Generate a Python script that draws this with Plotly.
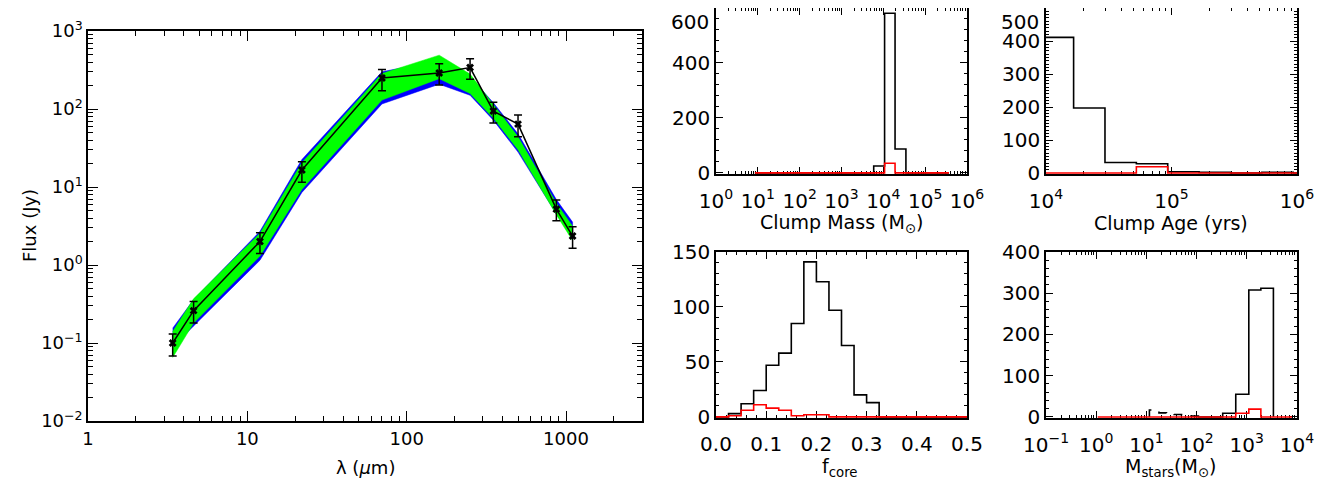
import plotly.graph_objects as go

# observed SED
wavelength = [3.4, 4.6, 12, 22, 70, 160, 250, 350, 500, 870, 1100]
flux = [0.10, 0.26, 2.0, 16.5, 250, 290, 340, 94, 64, 5.2, 2.35]
flux_hi = [0.13, 0.34, 2.6, 21, 320, 380, 440, 122, 84, 6.8, 3.1]
flux_lo = [0.068, 0.18, 1.4, 11.5, 172, 203, 240, 66, 44, 3.7, 1.64]

# model SED envelopes
model_wav = [3.4, 4.6, 12, 22, 70, 160, 250, 350, 500, 870, 1100]
blue_hi = [0.155, 0.36, 2.7, 22.5, 300, 420, 260, 120, 48, 6.9, 3.55]
blue_lo = [0.088, 0.165, 1.15, 8.5, 116, 208, 150, 72, 28, 4.5, 2.3]
green_hi = [0.14, 0.37, 2.55, 20.5, 285, 490, 280, 113, 44, 6.2, 3.15]
green_lo = [0.065, 0.18, 1.3, 9.3, 130, 245, 158, 76, 30, 4.4, 2.05]

# clump mass histogram (log10 bin edges)
mass_edges = [0.93, 1.19, 1.45, 1.70, 1.96, 2.22, 2.48, 2.74, 2.99, 3.25,
              3.51, 3.77, 4.03, 4.28, 4.54, 4.80, 5.06, 5.32, 5.57]
mass_all = [0, 0, 0, 0, 0, 0, 0, 0, 0, 0, 0, 25, 581, 87, 0, 0, 0, 0]
mass_best = [0, 0, 0, 0, 0, 0, 0, 0, 0, 0, 0, 0, 35, 0, 0, 0, 0, 0]

# clump age histogram (log10 bin edges)
age_edges = [3.97, 4.22, 4.47, 4.72, 4.97, 5.22, 5.47, 5.72, 5.97, 6.22]
age_all = [411, 197, 32, 28, 4, 2, 0, 2, 0]
age_best = [0, 0, 0, 19, 0, 0, 0, 0, 0]

# core fraction histogram
fcore_edges = [0.0, 0.025, 0.05, 0.075, 0.1, 0.125, 0.15, 0.175, 0.2, 0.225, 0.25,
               0.275, 0.3, 0.325, 0.35, 0.375, 0.4, 0.425, 0.45, 0.475, 0.5]
fcore_all = [0, 3, 12, 24, 47, 58, 85, 141, 123, 97, 65, 20, 13, 0, 0, 0, 0, 0, 0, 0]
fcore_best = [0, 1, 6, 11, 8, 6, 1, 2, 2, 0, 0, 0, 0, 0, 0, 0, 0, 0, 0, 0]

# stellar mass histograms (log10 bin edges)
mstar_edges = [2.02, 2.27, 2.52, 2.78, 3.04, 3.28, 3.53]
mstar_all = [0, 0, 9, 55, 308, 312]
mstar_low_edges = [1.06, 1.25, 1.40, 1.55, 1.70, 1.87, 2.07]
mstar_low = [17, 10, 8, 6, 4, 2]
mstar_best_edges = [0.03, 0.53, 1.03, 1.53, 2.03, 2.52, 2.78, 3.04, 3.28, 3.53, 3.90]
mstar_best = [0, 0, 0, 0, 0, 0, 9, 19, 0, 0]

FONT = "DejaVu Sans"
OFF = 8  # page body margin
W, H = 1332 - OFF, 483 - OFF


def step(edges, counts, log=True):
    xs = [edges[0]] + list(edges)
    ys = [0] + list(counts) + [0]
    if log:
        xs = [10 ** e for e in xs]
    return xs, ys


def log_minor(lo, hi):
    return [m * 10 ** k for k in range(lo, hi) for m in range(2, 10)]


def pow_labels(lo, hi):
    vals = [10 ** k for k in range(lo, hi + 1)]
    txt = ["10<sup>%s</sup>" % str(k).replace("-", "\u2212") for k in range(lo, hi + 1)]
    return vals, txt


fig = go.Figure()

# SED panel
fig.add_trace(go.Scatter(
    x=model_wav + model_wav[::-1], y=blue_hi + blue_lo[::-1],
    fill="toself", fillcolor="#0000ff", line=dict(color="#0000ff", width=0.5),
    mode="lines", xaxis="x", yaxis="y", hoverinfo="skip"))
fig.add_trace(go.Scatter(
    x=model_wav + model_wav[::-1], y=green_hi + green_lo[::-1],
    fill="toself", fillcolor="#00ff00", line=dict(color="#00ff00", width=0.5),
    mode="lines", xaxis="x", yaxis="y", hoverinfo="skip"))
fig.add_trace(go.Scatter(
    x=wavelength, y=flux, mode="lines+markers",
    line=dict(color="black", width=1.5),
    marker=dict(symbol="x", size=7, color="black"),
    error_y=dict(type="data", symmetric=False,
                 array=[h - f for h, f in zip(flux_hi, flux)],
                 arrayminus=[f - l for f, l in zip(flux, flux_lo)],
                 color="black", thickness=1.5, width=4),
    xaxis="x", yaxis="y"))

# histograms
hists = [
    ("x2", "y2", mass_edges, mass_all, "black", "solid", True),
    ("x2", "y2", mass_edges, mass_best, "red", "solid", True),
    ("x3", "y3", age_edges, age_all, "black", "solid", True),
    ("x3", "y3", age_edges, age_best, "red", "solid", True),
    ("x4", "y4", fcore_edges, fcore_all, "black", "solid", False),
    ("x4", "y4", fcore_edges, fcore_best, "red", "solid", False),
    ("x5", "y5", mstar_low_edges, mstar_low, "black", "dash", True),
    ("x5", "y5", mstar_edges, mstar_all, "black", "solid", True),
    ("x5", "y5", mstar_best_edges, mstar_best, "red", "solid", True),
]
for xa, ya, edges, counts, col, dash, lg in hists:
    xs, ys = step(edges, counts, lg)
    fig.add_trace(go.Scatter(x=xs, y=ys, mode="lines", line_shape="hv",
                             line=dict(color=col, width=1.6, dash=dash),
                             xaxis=xa, yaxis=ya, hoverinfo="skip"))


def ax(domain, anchor, rng, typ="linear", tickvals=None, ticktext=None,
       minor_vals=None, ticklen=8, minorlen=4, size=17, standoff=None):
    d = dict(domain=domain, anchor=anchor, range=rng, type=typ, automargin=False,
             showline=True, linecolor="black", linewidth=1.5, mirror="ticks",
             ticks="inside", ticklen=ticklen, tickwidth=1.2, tickcolor="black",
             showgrid=False, zeroline=False, layer="below traces",
             tickfont=dict(family=FONT, size=size, color="black"))
    if tickvals is not None:
        d.update(tickmode="array", tickvals=tickvals)
        if ticktext is not None:
            d["ticktext"] = ticktext
    if minor_vals is not None:
        d["minor"] = dict(tickmode="array", tickvals=minor_vals, ticks="inside",
                          ticklen=minorlen, tickwidth=1, tickcolor="black", showgrid=False)
    if standoff is not None:
        d["ticklabelstandoff"] = standoff
    return d


def px(x0, x1):
    return [(x0 - OFF) / W, (x1 - OFF) / W]


def py(top, bottom):
    return [1 - (bottom - OFF) / H, 1 - (top - OFF) / H]


sed_y_vals, sed_y_txt = pow_labels(-2, 3)
tl_x_vals, tl_x_txt = pow_labels(0, 6)
tr_x_vals, tr_x_txt = pow_labels(4, 6)
br_x_vals, br_x_txt = pow_labels(-1, 4)

fig.update_layout(
    width=W, height=H, margin=dict(l=0, r=0, t=0, b=0, autoexpand=False),
    paper_bgcolor="white", plot_bgcolor="white", showlegend=False,
    font=dict(family=FONT, color="black"),
    xaxis=ax(px(88, 642), "y", [0, 3.477], "log",
             tickvals=[1, 10, 100, 1000], ticktext=["1", "10", "100", "1000"],
             minor_vals=log_minor(0, 4), ticklen=10, minorlen=5, size=18, standoff=1),
    yaxis=ax(py(31, 421), "x", [-2, 3], "log", sed_y_vals, sed_y_txt,
             minor_vals=log_minor(-2, 3), ticklen=10, minorlen=5, size=18),
    xaxis2=ax(px(716, 967), "y2", [0, 6], "log", tl_x_vals, tl_x_txt,
              minor_vals=log_minor(0, 6), ticklen=7, minorlen=3, size=20, standoff=8),
    yaxis2=ax(py(8, 174), "x2", [-4, 600], "linear", [0, 200, 400, 600],
              ["0", "200", "400", " "],
              minor_vals=list(range(0, 601, 40)), ticklen=7, minorlen=3, size=20),
    xaxis3=ax(px(1046, 1297), "y3", [4, 6], "log", tr_x_vals, tr_x_txt,
              minor_vals=log_minor(4, 6), ticklen=7, minorlen=3, size=20, standoff=8),
    yaxis3=ax(py(8, 174), "x3", [-3, 500], "linear", [0, 100, 200, 300, 400, 500],
              ["0", "100", "200", "300", "400", " "],
              minor_vals=list(range(0, 501, 10)), ticklen=7, minorlen=3, size=20),
    xaxis4=ax(px(716, 967), "y4", [0, 0.5], "linear", [0, 0.1, 0.2, 0.3, 0.4, 0.5],
              ["0.0", "0.1", "0.2", "0.3", "0.4", "0.5"],
              minor_vals=[i / 100 for i in range(0, 51, 2)], ticklen=7, minorlen=3,
              size=20, standoff=7),
    yaxis4=ax(py(252, 418), "x4", [-1, 150], "linear", [0, 50, 100, 150],
              minor_vals=list(range(0, 151, 10)), ticklen=7, minorlen=3, size=20),
    xaxis5=ax(px(1046, 1297), "y5", [-1, 4], "log", br_x_vals, br_x_txt,
              minor_vals=log_minor(-1, 4), ticklen=7, minorlen=3, size=20, standoff=8),
    yaxis5=ax(py(252, 418), "x5", [-2.5, 400], "linear", [0, 100, 200, 300, 400],
              minor_vals=list(range(0, 401, 20)), ticklen=7, minorlen=3, size=20),
)

# axis titles
titles = [
    ("Flux (Jy)", 30, 226, -90, 18),
    ("\u03bb (<i>\u03bc</i>m)", 365, 467, 0, 18),
    ("Clump Mass (M<sub>\u2299</sub>)", 841, 223, 0, 19),
    ("Clump Age (yrs)", 1171, 223, 0, 19),
    ("f<sub>core</sub>", 840, 467, 0, 19),
    ("M<sub>stars</sub>(M<sub>\u2299</sub>)", 1170, 467, 0, 19),
]
for txt, x, y, ang, sz in titles:
    fig.add_annotation(text=txt, x=(x - OFF) / W, y=1 - (y - OFF) / H,
                       xref="paper", yref="paper",
                       showarrow=False, textangle=ang, xanchor="center", yanchor="middle",
                       font=dict(family=FONT, size=sz, color="black"))

# top tick labels, which sit just below the frame top
for txt, x in [("600", 711), ("500", 1041)]:
    fig.add_annotation(text=txt, x=(x - OFF) / W, y=1, xref="paper", yref="paper",
                       showarrow=False, xanchor="right", yanchor="top",
                       font=dict(family=FONT, size=20, color="black"))

fig.write_html("out.html")
